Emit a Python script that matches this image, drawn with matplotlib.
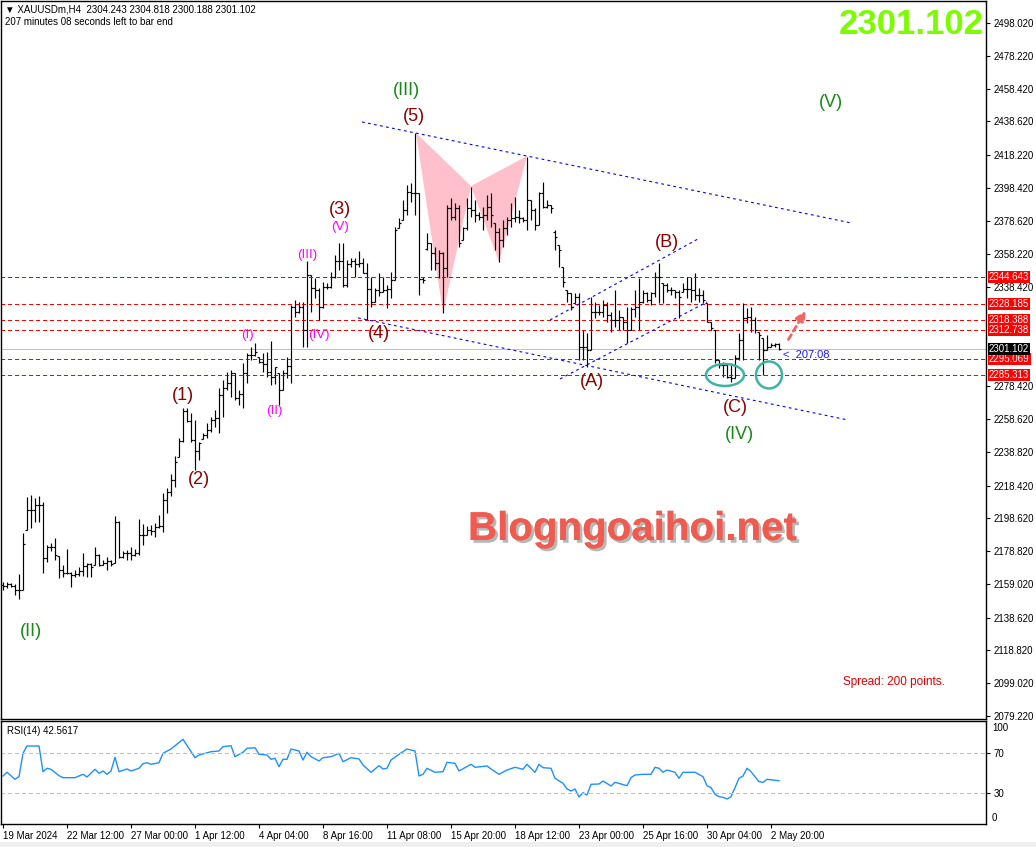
import matplotlib
matplotlib.use("Agg")
import matplotlib.pyplot as plt
import matplotlib.patheffects as pe
import numpy as np
from matplotlib.patches import Ellipse, Polygon

plt.rcParams["font.family"] = ["Liberation Sans", "DejaVu Sans"]

# ---------------------------------------------------------------- data (XAUUSDm H4)
opens = [2158.5, 2157.8, 2159.0, 2157.8, 2155.4, 2155.4, 2191.6, 2203.7, 2203.7, 2206.7,
         2206.7, 2174.7, 2181.4, 2181.4, 2175.9, 2167.5, 2165.6, 2165.6, 2164.4, 2165.0,
         2166.8, 2169.9, 2171.1, 2170.5, 2176.5, 2170.5, 2171.7, 2172.9, 2171.7, 2196.5,
         2175.3, 2177.7, 2177.7, 2176.5, 2177.7, 2188.6, 2188.6, 2191.6, 2191.0, 2193.4,
         2194.0, 2209.8, 2214.6, 2221.9, 2235.8, 2245.4, 2263.6, 2257.5, 2246.0, 2239.4,
         2246.6, 2249.0, 2252.0, 2258.1, 2259.3, 2273.2, 2277.5, 2280.5, 2286.5, 2271.4,
         2273.8, 2286.5, 2297.4, 2297.4, 2296.2, 2293.2, 2292.0, 2287.1, 2284.1, 2286.5,
         2276.3, 2286.5, 2290.8, 2326.4, 2323.4, 2326.4, 2312.5, 2345.7, 2337.9, 2336.7,
         2326.4, 2338.5, 2338.5, 2344.5, 2354.2, 2354.2, 2339.7, 2352.4, 2354.2, 2352.4,
         2353.0, 2346.9, 2337.3, 2329.4, 2336.7, 2335.5, 2336.7, 2337.3, 2342.7, 2374.1,
         2379.0, 2385.0, 2395.9, 2395.3, 2395.3, 2343.3, 2361.5, 2365.1, 2359.0, 2353.0,
         2359.0, 2350.0, 2386.2, 2380.8, 2386.2, 2366.9, 2374.1, 2386.2, 2385.0, 2382.0,
         2380.8, 2382.0, 2386.8, 2377.2, 2371.7, 2366.9, 2374.1, 2379.0, 2380.2, 2380.8,
         2380.2, 2379.0, 2391.1, 2385.0, 2376.0, 2395.3, 2386.8, 2388.0, 2372.0, 2363.9,
         2350.6, 2336.7, 2334.9, 2328.8, 2332.4, 2302.2, 2302.2, 2300.4, 2323.4, 2323.4,
         2323.4, 2327.6, 2321.6, 2318.5, 2318.5, 2320.4, 2317.3, 2312.5, 2325.2, 2326.4,
         2329.4, 2334.9, 2330.6, 2334.9, 2344.5, 2340.9, 2339.7, 2336.7, 2336.7, 2335.5,
         2335.5, 2337.3, 2337.3, 2336.7, 2333.7, 2333.7, 2328.8, 2317.3, 2312.5, 2294.4,
         2291.4, 2291.4, 2284.1, 2283.5, 2295.6, 2306.5, 2319.8, 2320.4, 2318.5, 2311.3,
         2307.7, 2300.4, 2302.2, 2303.4, 2304.243]
highs = [2160.2, 2160.2, 2159.6, 2159.0, 2165.0, 2189.8, 2211.6, 2212.8, 2211.0, 2212.2,
         2208.6, 2182.6, 2183.8, 2186.8, 2175.9, 2170.5, 2180.2, 2166.2, 2167.5, 2169.2,
         2177.7, 2171.7, 2171.7, 2181.4, 2177.1, 2173.5, 2175.3, 2173.5, 2200.1, 2197.1,
         2179.0, 2179.6, 2181.4, 2180.2, 2198.3, 2195.3, 2194.0, 2194.7, 2195.9, 2200.7,
         2214.0, 2217.0, 2225.5, 2236.4, 2247.2, 2265.4, 2265.4, 2262.3, 2258.1, 2244.8,
         2250.2, 2256.3, 2259.9, 2264.2, 2277.5, 2282.3, 2287.1, 2288.3, 2286.5, 2276.3,
         2292.6, 2298.6, 2302.2, 2304.6, 2296.2, 2298.6, 2299.2, 2305.9, 2290.2, 2286.5,
         2288.3, 2296.2, 2327.6, 2330.6, 2329.4, 2329.4, 2354.2, 2345.7, 2343.9, 2337.9,
         2341.5, 2340.9, 2347.5, 2357.8, 2365.1, 2365.1, 2354.8, 2356.0, 2356.0, 2360.2,
         2356.0, 2353.0, 2344.5, 2337.9, 2346.9, 2344.5, 2339.7, 2347.5, 2374.7, 2380.2,
         2391.1, 2400.1, 2401.3, 2431.5, 2395.3, 2344.5, 2371.1, 2365.1, 2362.7, 2360.8,
         2359.6, 2388.0, 2392.3, 2389.2, 2388.0, 2374.7, 2392.3, 2398.9, 2391.1, 2383.8,
         2386.8, 2394.1, 2395.3, 2377.2, 2374.1, 2379.0, 2380.8, 2389.2, 2392.9, 2385.0,
         2380.8, 2417.0, 2391.1, 2386.2, 2395.9, 2401.9, 2391.1, 2388.0, 2372.9, 2363.9,
         2350.6, 2336.7, 2334.9, 2334.9, 2334.9, 2312.5, 2310.7, 2332.4, 2329.4, 2327.6,
         2330.6, 2329.4, 2323.4, 2336.7, 2324.6, 2320.4, 2326.4, 2326.4, 2336.7, 2343.9,
         2336.7, 2335.5, 2335.5, 2347.5, 2353.0, 2340.9, 2340.9, 2338.5, 2336.7, 2336.7,
         2340.9, 2344.5, 2344.5, 2346.9, 2337.9, 2336.7, 2328.8, 2317.3, 2312.5, 2294.4,
         2293.2, 2292.6, 2292.6, 2297.4, 2310.7, 2328.8, 2325.8, 2326.4, 2320.4, 2311.3,
         2307.7, 2309.5, 2304.6, 2304.6, 2304.818]
lows = [2155.4, 2156.6, 2157.2, 2152.3, 2149.9, 2155.4, 2191.6, 2192.8, 2196.5, 2196.5,
        2165.6, 2172.3, 2179.0, 2173.5, 2162.6, 2163.2, 2165.0, 2157.2, 2163.2, 2163.8,
        2163.8, 2163.2, 2163.2, 2170.5, 2169.9, 2170.5, 2167.5, 2169.9, 2171.7, 2174.7,
        2174.7, 2173.5, 2173.5, 2175.9, 2176.5, 2182.6, 2188.6, 2188.6, 2187.4, 2192.8,
        2190.4, 2201.9, 2212.2, 2217.6, 2235.8, 2244.8, 2256.9, 2244.8, 2227.9, 2233.9,
        2246.6, 2247.2, 2250.8, 2253.9, 2250.2, 2259.9, 2276.3, 2272.0, 2270.2, 2267.2,
        2265.4, 2280.5, 2294.4, 2296.8, 2292.6, 2287.1, 2284.1, 2279.3, 2279.9, 2267.2,
        2276.3, 2283.5, 2280.5, 2320.4, 2322.8, 2302.2, 2302.2, 2323.4, 2331.8, 2318.5,
        2325.8, 2337.3, 2337.9, 2343.9, 2348.8, 2338.5, 2338.5, 2350.6, 2344.5, 2350.6,
        2346.9, 2318.5, 2326.4, 2329.4, 2333.0, 2335.5, 2325.8, 2331.8, 2342.7, 2374.1,
        2379.0, 2382.0, 2389.9, 2382.0, 2333.7, 2340.9, 2360.8, 2348.8, 2348.8, 2343.9,
        2322.8, 2344.5, 2379.0, 2379.0, 2362.7, 2366.9, 2372.9, 2380.8, 2377.8, 2379.0,
        2372.9, 2379.0, 2374.7, 2360.8, 2353.6, 2362.7, 2369.9, 2374.7, 2377.8, 2377.2,
        2377.8, 2372.9, 2379.0, 2372.9, 2376.0, 2386.2, 2386.2, 2383.2, 2360.8, 2350.6,
        2338.5, 2329.4, 2324.6, 2328.8, 2294.4, 2294.4, 2290.2, 2300.4, 2319.8, 2321.6,
        2320.4, 2317.3, 2311.3, 2314.3, 2312.5, 2312.5, 2304.6, 2312.5, 2320.4, 2312.5,
        2328.8, 2329.4, 2327.6, 2332.4, 2328.8, 2328.8, 2335.5, 2333.7, 2331.8, 2319.8,
        2335.5, 2331.8, 2329.4, 2330.6, 2329.4, 2328.8, 2317.3, 2312.5, 2292.6, 2289.5,
        2284.1, 2283.5, 2281.1, 2283.5, 2294.4, 2294.4, 2316.7, 2311.3, 2310.7, 2294.4,
        2285.3, 2300.4, 2302.2, 2302.2, 2300.188]
closes = [2157.8, 2159.0, 2157.8, 2155.4, 2155.4, 2183.2, 2203.7, 2203.7, 2206.7, 2206.7,
          2174.7, 2181.4, 2181.4, 2176.5, 2167.5, 2165.6, 2165.6, 2164.4, 2165.0, 2166.8,
          2169.9, 2171.1, 2169.2, 2176.5, 2170.5, 2171.7, 2172.9, 2171.1, 2196.5, 2175.3,
          2177.7, 2177.7, 2176.5, 2177.7, 2188.6, 2188.6, 2191.6, 2191.0, 2193.4, 2194.0,
          2209.8, 2214.6, 2221.9, 2232.7, 2245.4, 2263.6, 2257.5, 2246.0, 2239.4, 2244.2,
          2249.0, 2252.0, 2258.1, 2259.3, 2273.2, 2277.5, 2280.5, 2286.5, 2271.4, 2273.8,
          2286.5, 2297.4, 2297.4, 2299.2, 2293.2, 2292.0, 2287.1, 2284.1, 2290.2, 2276.3,
          2286.5, 2290.8, 2326.4, 2323.4, 2326.4, 2312.5, 2345.7, 2337.9, 2336.7, 2326.4,
          2338.5, 2338.5, 2344.5, 2354.2, 2354.2, 2339.7, 2352.4, 2354.2, 2352.4, 2353.0,
          2346.9, 2337.3, 2329.4, 2336.7, 2335.5, 2336.7, 2337.3, 2342.7, 2372.9, 2377.2,
          2385.0, 2395.9, 2395.3, 2395.3, 2343.3, 2342.7, 2365.1, 2359.0, 2353.0, 2359.0,
          2350.0, 2386.2, 2380.8, 2386.2, 2365.1, 2374.1, 2386.2, 2385.0, 2382.0, 2380.8,
          2382.0, 2386.8, 2382.0, 2371.7, 2366.9, 2374.1, 2379.0, 2380.2, 2380.8, 2380.2,
          2379.0, 2391.1, 2385.0, 2376.0, 2395.3, 2386.8, 2388.0, 2386.2, 2368.7, 2360.8,
          2341.5, 2334.9, 2326.4, 2332.4, 2302.2, 2302.2, 2300.4, 2323.4, 2323.4, 2323.4,
          2327.6, 2321.6, 2318.5, 2318.5, 2320.4, 2317.3, 2312.5, 2325.2, 2326.4, 2329.4,
          2334.9, 2330.6, 2334.9, 2344.5, 2344.5, 2339.7, 2336.7, 2336.7, 2335.5, 2332.4,
          2337.3, 2337.3, 2336.7, 2333.7, 2333.7, 2330.6, 2317.3, 2313.7, 2294.4, 2291.4,
          2291.4, 2284.1, 2283.5, 2295.6, 2306.5, 2319.8, 2320.4, 2318.5, 2312.5, 2309.5,
          2300.4, 2302.2, 2303.4, 2304.2, 2301.102]

# RSI(14) vertices: bar index -> value
rsi_bar = [0, 1, 3, 4, 5, 6, 9, 10, 11, 12, 14, 15, 18, 20, 21, 23, 24, 25, 26, 27, 28, 29,
           31, 32, 34, 35, 36, 37, 39, 40, 42, 45, 47, 48, 49, 52, 54, 55, 57, 58, 60, 61,
           63, 64, 66, 67, 68, 69, 70, 71, 72, 74, 75, 76, 77, 79, 80, 82, 84, 85, 87, 89,
           90, 92, 94, 95, 96, 97, 99, 101, 103, 104, 105, 106, 108, 110, 111, 113, 114,
           117, 118, 121, 122, 124, 126, 128, 130, 131, 133, 134, 135, 137, 138, 140, 141,
           142, 143, 144, 145, 146, 147, 149, 150, 152, 153, 156, 157, 158, 160, 162, 163,
           164, 165, 166, 168, 169, 170, 173, 175, 176, 177, 178, 179, 180, 181, 182, 183,
           184, 185, 186, 187, 189, 190, 191, 194]
rsi_val = [47.3, 51, 44, 46.6, 70, 77.3, 77.3, 51.6, 55, 54, 47.6, 45.6, 45.6, 49, 46.3, 54,
           50, 52.3, 49, 52.3, 66, 51.6, 54.3, 52.3, 55, 59.6, 60.6, 59, 60.6, 70, 74.3, 84,
           71.6, 65.6, 68.3, 71.6, 72.3, 76.6, 77.6, 66.6, 71, 75, 75.6, 69, 68.3, 64, 65,
           56.6, 64, 64, 74.3, 72.3, 63.3, 71, 66.6, 62.3, 65.6, 66.6, 70, 61.6, 65.6, 64.3,
           58.3, 51, 57.6, 54.3, 55, 63.3, 69, 74.3, 72.3, 47.3, 49, 55, 51, 51.6, 61, 60,
           52.3, 59, 56, 57.3, 54.3, 49, 53.3, 56, 54, 59, 51, 59, 55.6, 55, 45, 40, 34.3,
           32.3, 34.3, 26.3, 30.6, 28.3, 39, 39.3, 42.3, 37.3, 41, 37.6, 45.6, 48.3, 49, 49,
           56, 55, 51, 53.3, 51, 45, 51, 51, 46.6, 37.6, 35.6, 29, 26.6, 26, 24.3, 26.6, 35.6,
           45, 47.3, 55, 51.6, 41.6, 41, 44, 42.56]

date_labels = ["19 Mar 2024", "22 Mar 12:00", "27 Mar 00:00", "1 Apr 12:00", "4 Apr 04:00",
               "8 Apr 16:00", "11 Apr 08:00", "15 Apr 20:00", "18 Apr 12:00", "23 Apr 00:00",
               "25 Apr 16:00", "30 Apr 04:00", "2 May 20:00"]
price_ticks = [2498.020, 2478.220, 2458.420, 2438.620, 2418.220, 2398.420, 2378.620, 2358.220,
               2338.420, 2278.420, 2258.620, 2238.820, 2218.420, 2198.620, 2178.820, 2159.020,
               2138.620, 2118.820, 2099.020, 2079.220]
levels = [2344.643, 2328.185, 2318.388, 2312.738, 2295.069, 2285.313]
last_price = 2301.102

# Elliott wave labels (text, bar, price)
waves_primary = [("(II)", 7, 2130.0), ("(III)", 100.75, 2457.5), ("(IV)", 184, 2249.6),
                 ("(V)", 207, 2449.7)]
waves_inter = [("(1)", 45, 2272.6), ("(2)", 49, 2221.9), ("(3)", 84.25, 2385.6),
               ("(4)", 94, 2310.1), ("(5)", 102.75, 2441.8), ("(A)", 147.25, 2281.1),
               ("(B)", 166, 2365.1), ("(C)", 183, 2265.4)]
waves_minor = [("(I)", 61, 2309.5), ("(II)", 67.75, 2263.6), ("(III)", 76, 2357.8),
               ("(IV)", 79, 2309.5), ("(V)", 84.25, 2374.7)]

# harmonic pattern points X, A, B, C, D
xabcd_bar = [103.25, 110, 117, 124, 131]
xabcd_price = [2431.5, 2322.8, 2399.5, 2353.6, 2417.6]

# blue dotted trend lines: (bar0, price0, bar1, price1)
trend_lines = [(89.75, 2438.2, 212, 2377.2), (88.75, 2319.8, 211.25, 2258.1),
               (136.75, 2318.5, 173.75, 2367.5), (139.25, 2282.9, 176, 2329.4)]

# ---------------------------------------------------------------- figure
fig = plt.figure(figsize=(10.36, 8.47), dpi=100)
W, H = 1036, 847
ax = fig.add_axes([1 / W, 1 - 719 / H, 985 / W, 718 / H])
ax2 = fig.add_axes([1 / W, 1 - 824 / H, 985 / W, 103 / H])

idx = np.arange(len(closes))
ax.vlines(idx, lows, highs, color="black", lw=0.85, zorder=3)
ax.hlines(opens, idx - 0.45, idx, color="black", lw=0.85, zorder=3)
ax.hlines(closes, idx, idx + 0.45, color="black", lw=0.85, zorder=3)

# harmonic pattern
px = list(zip(xabcd_bar, xabcd_price))
ax.add_patch(Polygon(px[0:3], closed=True, facecolor="#ffc0cb", edgecolor="none", zorder=1))
ax.add_patch(Polygon(px[2:5], closed=True, facecolor="#ffc0cb", edgecolor="none", zorder=1))

# levels
for lv in levels:
    ax.axhline(lv, color="#ff0000", lw=0.72, ls=(0, (4, 3)), zorder=2, antialiased=False)
    ax.annotate(f"{lv:.3f}", xy=(1, lv), xycoords=("axes fraction", "data"),
                xytext=(2, 0), textcoords="offset points", va="center", ha="left",
                fontsize=7, color="white", annotation_clip=False,
                bbox=dict(boxstyle="square,pad=0.12", facecolor="#ff0000", edgecolor="none"))
ax.axhline(last_price, color="#c0c0c0", lw=0.72, zorder=2, antialiased=False)
ax.annotate(f"{last_price:.3f}", xy=(1, last_price), xycoords=("axes fraction", "data"),
            xytext=(2, 0), textcoords="offset points", va="center", ha="left",
            fontsize=7, color="white", annotation_clip=False,
            bbox=dict(boxstyle="square,pad=0.12", facecolor="black", edgecolor="none"))

for b0, p0, b1, p1 in trend_lines:
    ax.plot([b0, b1], [p0, p1], color="#0000ff", lw=0.8, ls=(0, (2.5, 3)), zorder=2)

# wave labels
for t, b, p in waves_primary:
    ax.text(b, p, t, color="#138a13", fontsize=13, ha="center", va="center", zorder=5)
for t, b, p in waves_inter:
    ax.text(b, p, t, color="#8b0000", fontsize=13, ha="center", va="center", zorder=5)
for t, b, p in waves_minor:
    ax.text(b, p, t, color="#ff00ff", fontsize=9.5, ha="center", va="center", zorder=5)

# ellipses and arrow
for cb, cp, w, h in [(180.5, 2285.3, 9.5, 13.3), (191.5, 2285.3, 6.5, 16.3)]:
    ax.add_patch(Ellipse((cb, cp), w, h, fill=False, edgecolor="#3fb3a3", lw=1.8, zorder=6))
ax.annotate("", xy=(201, 2325.5), xytext=(196, 2305.3),
            arrowprops=dict(arrowstyle="-|>,head_length=0.6,head_width=0.3",
                            color="#f06666", lw=2, ls=(0, (2, 1.5))), zorder=6)
ax.text(195, 2297.4, "<  207:08", color="#1a1aff", fontsize=8, ha="left", va="center")

ax.set_xlim(-0.5, 245.75)
ax.set_ylim(2077.4, 2511.3)
ax.yaxis.tick_right()
ax.set_yticks(price_ticks)
ax.set_yticklabels([f"{v:.3f}" for v in price_ticks])
ax.tick_params(axis="y", direction="out", length=3, pad=2.5, labelsize=7, width=0.8)
ax.set_xticks([])
for s in ax.spines.values():
    s.set_linewidth(1.0)

# RSI panel
ax2.plot(rsi_bar, rsi_val, color="#1e90ff", lw=1.0)
for lv in (70, 30):
    ax2.axhline(lv, color="#c0c0c0", lw=0.72, ls=(0, (4, 3)), antialiased=False)
ax2.set_xlim(-0.5, 245.75)
ax2.set_ylim(-0.7, 102.3)
ax2.yaxis.tick_right()
ax2.set_yticks([70, 30])
ax2.set_yticklabels(["70", "30"])
ax2.tick_params(axis="y", direction="out", length=3, pad=2.5, labelsize=7, width=0.8)
ax2.text(1.006, 100, "100", transform=ax2.get_yaxis_transform(), fontsize=7,
         ha="left", va="top")
ax2.text(1.006, 0, "0", transform=ax2.get_yaxis_transform(), fontsize=7, ha="left", va="bottom")
ax2.set_xticks(np.arange(0, 16 * len(date_labels), 16))
ax2.set_xticklabels(date_labels, ha="left")
ax2.tick_params(axis="x", direction="out", length=3, pad=2, labelsize=7, width=0.8)
ax2.text(0.006, 0.95, "RSI(14) 42.5617", transform=ax2.transAxes, fontsize=7, va="top")
for s in ax2.spines.values():
    s.set_linewidth(1.0)

# header / overlays
fig.text(5 / W, 1 - 9 / H, "\u25bc XAUUSDm,H4  2304.243 2304.818 2300.188 2301.102",
         fontsize=7, va="center")
fig.text(5 / W, 1 - 22 / H, "207 minutes 08 seconds left to bar end", fontsize=7, va="center")
fig.text(984 / W, 1 - 24 / H, "2301.102", fontsize=25, weight="bold", color="#7cfc00",
         ha="right", va="center")
fig.text(468 / W, 1 - 540 / H, "Blogngoaihoi.net", fontsize=29, weight="bold",
         color="#ef5b4f", va="baseline",
         path_effects=[pe.withSimplePatchShadow(offset=(2, -2), shadow_rgbFace="#888888",
                                                alpha=0.6), pe.Normal()])
fig.text(843 / W, 1 - 682 / H, "Spread: 200 points.", fontsize=8.5, color="#e00000",
         va="center")
fig.patches.append(plt.Rectangle((0, 0), 1, 5 / H, transform=fig.transFigure,
                                 facecolor="#efefef", edgecolor="none"))

fig.savefig("out.png", dpi=100)
